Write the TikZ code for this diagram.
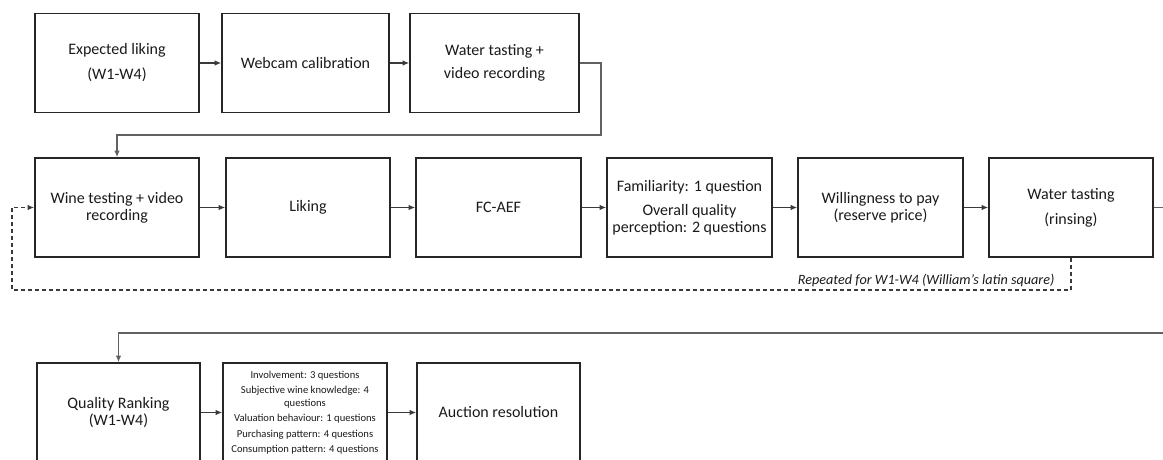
\documentclass[tikz,border=0pt]{standalone}
\usepackage{fontspec}
\setmainfont{Carlito}
\usetikzlibrary{positioning}
\usetikzlibrary{arrows.meta, calc}
\definecolor{boxline}{HTML}{262626}
\definecolor{conline}{HTML}{3A3A3A}
\definecolor{txtgray}{HTML}{1A1A1A}

\begin{document}
\begin{tikzpicture}
  [
    x=1pt, y=-1pt,
    >={Latex[length=6.5pt,width=5.5pt]},
    stage/.style    = {draw=boxline, line width=1.6pt, rectangle, minimum width=\bw, minimum height=\bh, inner sep=0pt, align=center, text=txtgray, font=\fontsize{16}{17}\selectfont},
    link/.style     = {->, draw=conline, line width=1.2pt},
    longlink/.style = {->, draw=conline!80, line width=1.2pt},
    repeat/.style   = {->, draw=conline, line width=1.3pt, dash pattern=on 4pt off 3pt},
  ]

  % the frame
  \def\bw{164pt}
  \def\bh{99pt}
  \useasboundingbox (0,0) rectangle (1163,460);
  \clip (0,0) rectangle (1163,460);

  % the first row
  \node (expLik) at (117,63) [stage] {Expected liking\\[8pt](W1-W4)};
  \node (webcam) at (305.5,63) [stage, minimum width=167pt] {Webcam calibration};
  \node (waterVid) at (494.5,63) [stage, minimum width=169pt] {Water tasting +\\[6pt]video recording};

  % the second row
  \node (wineTest) at (117,207.5) [stage] {Wine testing + video\\recording};
  \node (liking) at (308,207.5) [stage] {Liking};
  \node (fcaef) at (498.5,207.5) [stage, minimum width=165pt] {FC-AEF};
  \node (famil) at (689.5,207.5) [stage, minimum width=165pt] {Familiarity: 1 question\\[7pt]Overall quality\\perception: 2 questions};
  \node (wtp) at (880.5,207.5) [stage, minimum width=165pt] {Willingness to pay\\(reserve price)};
  \node (rinse) at (1071,207.5) [stage] {Water tasting\\[8pt](rinsing)};

  % the third row
  \node (qualRank) at (118.5,412.5) [stage, minimum width=163pt] {Quality Ranking\\(W1-W4)};
  \node (survey) at (305,412.5) [stage, font=\fontsize{10.6}{12.5}\selectfont] {Involvement: 3 questions\\[3pt]Subjective wine knowledge: 4\\questions\\[3pt]Valuation behaviour: 1 questions\\[3pt]Purchasing pattern: 4 questions\\[3pt]Consumption pattern: 4 questions};
  \node (auction) at (498.5,412.5) [stage, minimum width=163pt] {Auction resolution};

  % the arrows
  \draw[link] (expLik) -- (webcam);
  \draw[link] (webcam) -- (waterVid);
  \coordinate (turnA) at (601,135);
  \draw[longlink] (waterVid.east) -| (turnA) -| (wineTest.north);

  \foreach \a/\b in {wineTest/liking, liking/fcaef, fcaef/famil, famil/wtp, wtp/rinse}
    \draw[link] (\a) -- (\b);
  \coordinate (turnB) at (1200,333);
  \draw[longlink] (rinse.east) -| (turnB) -| (qualRank.north);

  \draw[link] (qualRank) -- (survey);
  \draw[link] (survey) -- (auction);

  % the repeat loop
  \coordinate (loopL) at (12,290);
  \draw[repeat] (rinse.south) |- (loopL) |- (wineTest.west);
  \node (repNote) at (1058,280) [anchor=east, text=txtgray, font=\itshape\fontsize{14.2}{15}\selectfont] {Repeated for W1-W4 (William’s latin square)};

\end{tikzpicture}
\end{document}
